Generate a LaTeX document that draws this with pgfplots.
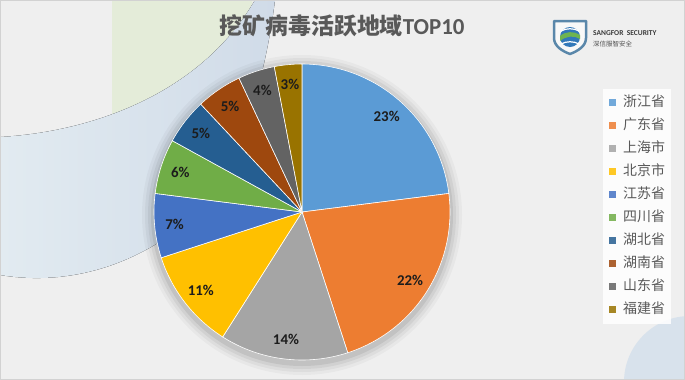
\documentclass[border=0pt]{standalone}
\usepackage{pgfplots}
\pgfplotsset{compat=1.18}
\usepackage{pgfplotstable}
\usepackage{fontspec}
\setmainfont{Carlito}
\newfontfamily\cjk{Noto Sans CJK SC}
\newfontfamily\calib{Carlito}
\definecolor{c0}{HTML}{5B9BD5}
\definecolor{c1}{HTML}{ED7D31}
\definecolor{c2}{HTML}{A5A5A5}
\definecolor{c3}{HTML}{FFC000}
\definecolor{c4}{HTML}{4472C4}
\definecolor{c5}{HTML}{70AD47}
\definecolor{c6}{HTML}{255E91}
\definecolor{c7}{HTML}{9E480E}
\definecolor{c8}{HTML}{636363}
\definecolor{c9}{HTML}{997300}
\definecolor{bg}{HTML}{EFEFEF}
\definecolor{txt}{HTML}{595959}
\definecolor{lab}{HTML}{1C1C1C}
\pgfplotstableread[col sep=comma]{
name,value
浙江省,23
广东省,22
上海市,14
北京市,11
江苏省,7
四川省,6
湖北省,5
湖南省,5
山东省,4
福建省,3
}\piedata
\tikzset{pielabel/.style={font=\calib\bfseries\fontsize{15}{15}\selectfont, text=lab, inner sep=0pt}}
\begin{document}
\begin{tikzpicture}
\begin{axis}[width=685bp, height=380bp, scale only axis,
  xmin=0, xmax=685, ymin=0, ymax=380, y dir=reverse, hide axis, clip=false,
  legend image code/.code={\path[#1, draw=none] (0bp,-3.5bp) rectangle (7bp,3.5bp);},
  legend style={at={(axis cs:603,89)}, anchor=north west, fill=white, fill opacity=0.85, text opacity=1, draw=none,
    font=\cjk\fontsize{14}{14}\selectfont, text=txt,
    nodes={inner sep=0pt, text height=10.5bp, text depth=3bp},
    row sep=9.5bp, column sep=7bp, inner xsep=6bp, inner ysep=7bp},
  legend cell align=left,
]
% background
\fill[bg] (axis cs:0,0) rectangle (axis cs:685,380);
\begin{scope}
\clip (axis cs:0,0) rectangle (axis cs:685,380);
\fill[color={rgb,255:red,228;green,236;blue,217}] (axis cs:112,0) -- (axis cs:252,0) .. controls (axis cs:258,40) and (axis cs:262,80) .. (axis cs:262,120) -- (axis cs:112,140) -- cycle;
\fill[left color={rgb,255:red,226;green,235;blue,241}, right color={rgb,255:red,208;green,219;blue,232}]
  (axis cs:0,137) .. controls (axis cs:90,132) and (axis cs:200,95) .. (axis cs:255,0)
  -- (axis cs:275,0) .. controls (axis cs:260,120) and (axis cs:220,200) .. (axis cs:170,235)
  .. controls (axis cs:120,270) and (axis cs:60,285) .. (axis cs:0,275) -- cycle;
\fill[color={rgb,255:red,216;green,226;blue,236}] (axis cs:690,382) circle[radius=66bp];
\end{scope}
\draw[color={rgb,255:red,210;green,210;blue,210}, line width=1bp] (axis cs:0.5,0.5) rectangle (axis cs:684.5,379.5);
% shadow
\fill[black, opacity=0.03] (axis cs:302,215) circle[radius=160bp];
\fill[black, opacity=0.04] (axis cs:302,215) circle[radius=157bp];
\fill[black, opacity=0.05] (axis cs:302,215) circle[radius=154bp];
\fill[black, opacity=0.07] (axis cs:302,215) circle[radius=151bp];
% title
\node[text=txt, inner sep=0pt] at (axis cs:342,26) {\cjk\bfseries\fontsize{23}{23}\selectfont 挖矿病毒活跃地域\calib\bfseries TOP10};
% logo
\fill[white, opacity=0.6] (axis cs:554,21) -- (axis cs:586,21) -- (axis cs:586,38) .. controls (axis cs:586,46) and (axis cs:578,51) .. (axis cs:570,54) .. controls (axis cs:562,51) and (axis cs:554,46) .. (axis cs:554,38) -- cycle;
\draw[color={rgb,255:red,90;green,135;blue,170}, line width=2.5bp, line join=round] (axis cs:554,21) -- (axis cs:586,21) -- (axis cs:586,38) .. controls (axis cs:586,46) and (axis cs:578,51) .. (axis cs:570,54) .. controls (axis cs:562,51) and (axis cs:554,46) .. (axis cs:554,38) -- cycle;
\fill[color={rgb,255:red,50;green,120;blue,185}] (axis cs:570,37) circle[radius=10bp];
\fill[color={rgb,255:red,110;green,180;blue,80}] (axis cs:560,36) .. controls (axis cs:566,31) and (axis cs:574,31) .. (axis cs:580,35) -- (axis cs:580,39) .. controls (axis cs:574,35) and (axis cs:566,36) .. (axis cs:560,41) -- cycle;
\draw[white, line width=1.2bp] (axis cs:561,31) .. controls (axis cs:566,28) and (axis cs:574,28) .. (axis cs:579,31);
\draw[white, line width=1.2bp] (axis cs:561,44) .. controls (axis cs:566,41) and (axis cs:574,41) .. (axis cs:579,44);
\node[anchor=west, inner sep=0pt, text={rgb,255:red,60;green,60;blue,60}] at (axis cs:593,33) {\calib\bfseries\fontsize{7.5}{7.5}\selectfont SANGFOR\ \ SECURITY};
\node[anchor=west, inner sep=0pt, text={rgb,255:red,80;green,80;blue,80}] at (axis cs:593,44) {\cjk\fontsize{6.5}{6.5}\selectfont 深信服智安全};
% pie
\def\cum{0}
\pgfplotsforeachungrouped \i in {0,...,9}{%
  \pgfplotstablegetelem{\i}{value}\of\piedata
  \let\pv\pgfplotsretval
  \pgfplotstablegetelem{\i}{name}\of\piedata
  \let\nm\pgfplotsretval
  \pgfmathsetmacro\sa{90-3.6*\cum}
  \pgfmathsetmacro\sb{90-3.6*(\cum+\pv)}
  \pgfmathsetmacro\sm{(\sa+\sb)/2}
  \pgfmathsetmacro\lx{302+128*cos(\sm)}
  \pgfmathsetmacro\ly{212-128*sin(\sm)}
  \pgfmathsetmacro\newcum{\cum+\pv}
  \xdef\cum{\newcum}
  \edef\temp{\noexpand\addplot[fill=c\i, draw=white, line width=0.6bp, domain=\sb:\sa, samples=60, variable=\noexpand\t] ({302+148*cos(\noexpand\t)},{212-148*sin(\noexpand\t)}) -- (axis cs:302,212) -- cycle;
  \noexpand\addlegendentry{\nm}
  \noexpand\node[pielabel] at (axis cs:\lx,\ly) {\pv\noexpand\%};}
  \temp
}
\end{axis}
\end{tikzpicture}
\end{document}
